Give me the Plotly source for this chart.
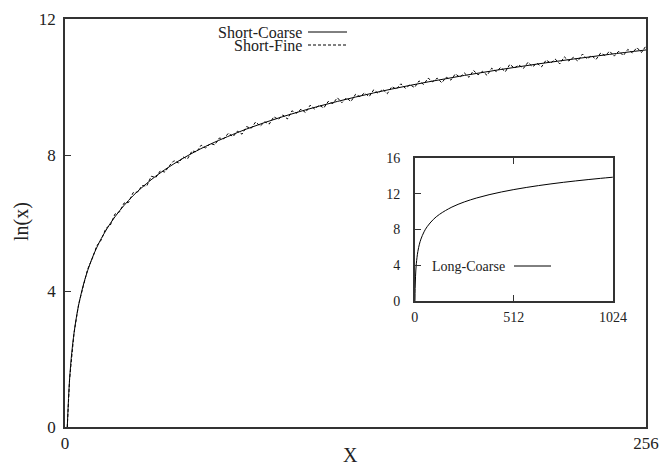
import plotly.graph_objects as go

# ---- data ----
coarse_x = [1, 2, 3, 4, 5, 6, 8, 10, 12, 14, 16, 20, 24, 28, 32, 40, 48, 56, 64, 80,
            96, 112, 128, 144, 160, 176, 192, 208, 224, 240, 256]
coarse_y = [0, 1.386, 2.197, 2.773, 3.219, 3.584, 4.159, 4.605, 4.970, 5.278, 5.545,
            5.991, 6.356, 6.664, 6.931, 7.378, 7.742, 8.051, 8.318, 8.764, 9.129,
            9.437, 9.704, 9.940, 10.150, 10.341, 10.515, 10.675, 10.823, 10.961, 11.090]

fine_x = [1] + list(range(2, 257, 2))
fine_y = [0,
          1.386, 2.773, 3.604, 4.129, 4.645, 4.950, 5.328, 5.505, 5.841, 5.941,
          6.262, 6.326, 6.586, 6.604, 6.892, 6.911, 7.103, 7.087, 7.375, 7.338,
          7.535, 7.498, 7.687, 7.832, 7.764, 7.942, 7.888, 8.121, 8.091, 8.289,
          8.204, 8.338, 8.299, 8.499, 8.477, 8.643, 8.538, 8.701, 8.613, 8.834,
          8.783, 8.972, 8.849, 8.975, 8.910, 9.124, 9.047, 9.179, 9.060, 9.300,
          9.230, 9.349, 9.247, 9.464, 9.351, 9.467, 9.382, 9.577, 9.511, 9.685,
          9.538, 9.681, 9.573, 9.784, 9.715, 9.826, 9.716, 9.915, 9.815, 9.933,
          9.802, 10.010, 9.937, 10.094, 9.961, 10.068, 9.984, 10.180, 10.075, 10.260,
          10.155, 10.260, 10.124, 10.288, 10.202, 10.385, 10.288, 10.411, 10.284, 10.486,
          10.358, 10.460, 10.341, 10.553, 10.454, 10.575, 10.446, 10.666, 10.557, 10.647,
          10.547, 10.726, 10.596, 10.695, 10.594, 10.793, 10.702, 10.821, 10.679, 10.887,
          10.765, 10.873, 10.761, 10.969, 10.826, 10.923, 10.811, 10.998, 10.925, 11.051,
          10.908, 11.054, 10.921, 11.107, 11.003, 11.159, 11.015, 11.210]

long_x = [1, 2, 4, 8, 16, 24, 32, 48, 64, 96, 128, 192, 256, 320, 384, 448, 512,
          576, 640, 704, 768, 832, 896, 960, 1024]
long_y = [0, 1.386, 2.773, 4.159, 5.545, 6.356, 6.931, 7.742, 8.318, 9.129, 9.704,
          10.515, 11.090, 11.536, 11.901, 12.210, 12.477, 12.712, 12.923, 13.114,
          13.288, 13.447, 13.596, 13.734, 13.863]

main_xticks = [0, 256]
main_yticks = [0, 4, 8, 12]
inset_xticks = [0, 512, 1024]
inset_yticks = [0, 4, 8, 12, 16]

FONT = "Liberation Serif"
INK = "#222222"
AX = "#333333"

fig = go.Figure()
fig.add_trace(go.Scatter(x=coarse_x, y=coarse_y, mode="lines", name="Short-Coarse",
                         line=dict(color="black", width=1, shape="spline"),
                         xaxis="x", yaxis="y", showlegend=False))
fig.add_trace(go.Scatter(x=fine_x, y=fine_y, mode="lines", name="Short-Fine",
                         line=dict(color="black", width=1, dash="3px,2px"),
                         xaxis="x", yaxis="y", showlegend=False))
fig.add_trace(go.Scatter(x=long_x, y=long_y, mode="lines", name="Long-Coarse",
                         line=dict(color="black", width=1, shape="spline"),
                         xaxis="x2", yaxis="y2", showlegend=False))

axis_common = dict(showline=True, linecolor=AX, linewidth=1.5, showgrid=False,
                   zeroline=False, ticks="inside", tickcolor=AX, tickwidth=1,
                   color=INK, automargin=False)

fig.update_layout(
    width=664, height=468,
    margin=dict(l=65, r=18, t=19, b=41),
    paper_bgcolor="white", plot_bgcolor="white",
    font=dict(family=FONT, color=INK),
    showlegend=False,
    xaxis=dict(range=[0, 256], tickvals=main_xticks, ticklen=6, mirror=True,
               tickfont=dict(size=17, family=FONT, color=INK),
               **axis_common),
    yaxis=dict(range=[0, 12], tickvals=main_yticks, ticklen=6, mirror=True,
               tickfont=dict(size=17, family=FONT, color=INK), ticklabelstandoff=4,
               **axis_common),
    xaxis2=dict(range=[0, 1024], tickvals=inset_xticks, ticklen=6, mirror="ticks",
                domain=[0.602, 0.943], anchor="y2", ticklabelstandoff=3,
                tickfont=dict(size=14, family=FONT, color=INK), **axis_common),
    yaxis2=dict(range=[0, 16], tickvals=inset_yticks, ticklen=6, mirror=True,
                domain=[0.309, 0.659], anchor="x2", ticklabelstandoff=10,
                tickfont=dict(size=14, family=FONT, color=INK), **axis_common),
)

def px_x(p):
    return (p - 65) / 581.0

def px_y(p):
    return (427 - p) / 408.0

# axis titles
fig.add_annotation(x=px_x(350), y=px_y(455), xref="paper", yref="paper", text="X",
                   showarrow=False, xanchor="center", yanchor="middle",
                   font=dict(size=20, family=FONT, color=INK))
fig.add_annotation(x=px_x(21), y=px_y(222), xref="paper", yref="paper", text="ln(x)",
                   showarrow=False, xanchor="center", yanchor="middle", textangle=-90,
                   font=dict(size=20, family=FONT, color=INK))

# main key: two right-aligned lines in one text block, tight line spacing
main_key = ["Short-Coarse", "Short-Fine"]
main_key_y = [32, 45]
main_key_dash = ["solid", "3px,2px"]
fig.add_annotation(x=px_x(303), y=px_y(38.5), xref="paper", yref="paper",
                   text="<br>".join("<span style='font-size:16px'>%s</span>" % t
                                    for t in main_key),
                   showarrow=False, xanchor="right", yanchor="middle", align="right",
                   borderpad=0, font=dict(size=10, family=FONT, color=INK))
for yy, dash in zip(main_key_y, main_key_dash):
    fig.add_shape(type="line", xref="paper", yref="paper",
                  x0=px_x(308), x1=px_x(347), y0=px_y(yy), y1=px_y(yy),
                  line=dict(color="black", width=1, dash=dash))

# inset key
fig.add_annotation(x=px_x(506), y=px_y(266), xref="paper", yref="paper",
                   text="Long-Coarse", showarrow=False, xanchor="right",
                   yanchor="middle", borderpad=0,
                   font=dict(size=14, family=FONT, color=INK))
fig.add_shape(type="line", xref="paper", yref="paper",
              x0=px_x(514), x1=px_x(551), y0=px_y(266), y1=px_y(266),
              line=dict(color="black", width=1))

fig.write_html("out.html")
